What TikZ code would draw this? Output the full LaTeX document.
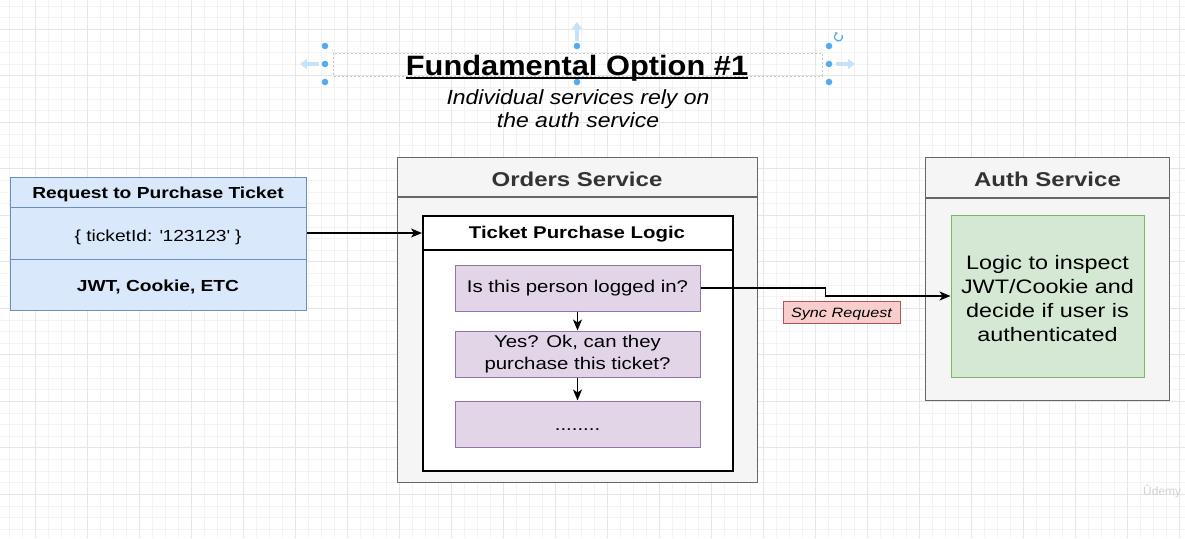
\documentclass[tikz,border=0pt]{standalone}
\usepackage{fontspec}
\setmainfont{Liberation Sans}[FakeStretch=1.2]
\newfontfamily\titlefont{Liberation Sans}[FakeStretch=1.1]
\newfontfamily\subfont{Liberation Sans}[FakeStretch=1.12]
\newfontfamily\plainfont{Liberation Sans}
\usetikzlibrary{arrows.meta,calc}
\definecolor{reqfill}{HTML}{DAE8FC}
\definecolor{reqdraw}{HTML}{6C8EBF}
\definecolor{svcfill}{HTML}{F5F5F5}
\definecolor{svcdraw}{HTML}{666666}
\definecolor{svctext}{HTML}{333333}
\definecolor{purfill}{HTML}{E1D5E7}
\definecolor{purdraw}{HTML}{9673A6}
\definecolor{grnfill}{HTML}{D5E8D4}
\definecolor{grndraw}{HTML}{82B366}
\definecolor{redfill}{HTML}{F8CECC}
\definecolor{reddraw}{HTML}{B85450}
\definecolor{gridminor}{HTML}{F3F3F3}
\definecolor{gridmajor}{HTML}{E6E6E6}
\definecolor{handlecol}{HTML}{56AAF0}
\definecolor{hintcol}{HTML}{C6E2F8}
\tikzset{
  box/.style={draw, rectangle, inner sep=0pt, anchor=north west},
  txt/.style={inner sep=0pt, anchor=base},
  purbox/.style={draw=purdraw, fill=purfill, line width=1pt, minimum width=245pt, minimum height=46pt, inner sep=0pt, font=\fontsize{17}{21.7}\selectfont},
  arr/.style={-{Stealth[length=11pt,width=9pt,inset=3pt]}, line width=1.2pt},
  hint/.style={hintcol, line width=3.5pt, -{Triangle[length=7pt,width=10pt]}},
}
\begin{document}
\begin{tikzpicture}[x=1pt,y=-1pt]
\useasboundingbox (0,0) rectangle (1185,538);
\clip (0,0) rectangle (1185,538);
\fill[white] (0,0) rectangle (1185,538);
% grid
\foreach \i in {0,...,92} \draw[gridminor, line width=0.8pt] ({-3.3+13*\i},0) -- ({-3.3+13*\i},538);
\foreach \j in {0,...,46} \draw[gridminor, line width=0.8pt] (0,{6.05+11.625*\j}) -- (1185,{6.05+11.625*\j});
\foreach \i in {0,...,23} \draw[gridmajor, line width=0.8pt] ({35.7+52*\i},0) -- ({35.7+52*\i},538);
\foreach \j in {0,...,11} \draw[gridmajor, line width=0.8pt] (0,{29.3+46.5*\j}) -- (1185,{29.3+46.5*\j});

% selection handles around title
\draw[black!22, line width=0.6pt, dash pattern=on 2pt off 2pt] (333,53) rectangle (822,76);
\foreach \p in {(325,46),(325,64),(325,82),(577,46),(577,82),(829,46),(829,64),(829,82)}
  \fill[handlecol] \p circle (3.3);
\draw[hint] (319,64) -- (300,64);
\draw[hint] (836,64) -- (855,64);
\draw[hint] (577,41) -- (577,22);
\draw[handlecol, line width=1.2pt, -{Stealth[length=3pt,width=3.5pt]}] (842,35) arc (-30:260:4);

% title
\node[txt, font=\titlefont\bfseries\fontsize{28}{32}\selectfont] (title) at (577,75) {Fundamental Option \#1};
\draw[line width=2pt] ($(title.base west)+(0,3.2)$) -- ($(title.base east)+(0,3.2)$);
\node[txt, font=\subfont\itshape\fontsize{20.5}{23.3}\selectfont] (sub1) at (578,104) {Individual services rely on};
\node[txt, font=\subfont\itshape\fontsize{20.5}{23.3}\selectfont] (sub2) at (578,127.3) {the auth service};

% request box
\node[box, fill=reqfill, draw=reqdraw, line width=1pt, minimum width=296pt, minimum height=133pt] (req) at (10,177) {};
\draw[reqdraw, line width=1pt] ($(req.north west)+(0,30)$) -- ($(req.north east)+(0,30)$);
\draw[reqdraw, line width=1pt] ($(req.north west)+(0,82)$) -- ($(req.north east)+(0,82)$);
\node[txt, font=\bfseries\fontsize{16}{19}\selectfont] (reqh) at (158,198.3) {Request to Purchase Ticket};
\node[txt, font=\fontsize{16}{19}\selectfont] (reqb) at (158,241) {\{ ticketId: \textquotesingle 123123\textquotesingle\ \}};
\node[txt, font=\bfseries\fontsize{16}{19}\selectfont] (reqf) at (158,291.7) {JWT, Cookie, ETC};

% orders service
\node[box, fill=svcfill, draw=svcdraw, line width=1.2pt, minimum width=360pt, minimum height=325pt] (orders) at (397,157) {};
\draw[svcdraw, line width=1.2pt] ($(orders.north west)+(0,40)$) -- ($(orders.north east)+(0,40)$);
\node[txt, text=svctext, font=\bfseries\fontsize{20}{24}\selectfont] (ordersh) at (577,186.7) {Orders Service};

% ticket purchase logic
\node[box, fill=white, draw=black, line width=1.5pt, minimum width=310pt, minimum height=255pt] (tpl) at (422,215) {};
\draw[black, line width=1.5pt] ($(tpl.north west)+(0,35)$) -- ($(tpl.north east)+(0,35)$);
\coordinate (tplin) at ($(tpl.north west)+(0,18)$);
\node[txt, font=\bfseries\fontsize{17}{20}\selectfont] (tplh) at (577,238.3) {Ticket Purchase Logic};

\node[purbox] (b1) at (577.5,288) {Is this person logged in?};
\node[purbox, align=center] (b2) at (577.5,354) {Yes? Ok, can they\\purchase this ticket?};
\node[purbox, text height=12pt, text depth=0pt] (b3) at (577.5,424) {........};

% auth service
\node[box, fill=svcfill, draw=svcdraw, line width=1.2pt, minimum width=244pt, minimum height=243pt] (auth) at (925,157) {};
\draw[svcdraw, line width=1.2pt] ($(auth.north west)+(0,41)$) -- ($(auth.north east)+(0,41)$);
\node[txt, text=svctext, font=\bfseries\fontsize{20}{24}\selectfont] (authh) at (1047.5,186.7) {Auth Service};
\node[draw=grndraw, fill=grnfill, line width=1pt, minimum width=193pt, minimum height=162pt, inner sep=0pt] (logic) at (1047.5,296) {};
\node[inner sep=0pt, align=center, font=\fontsize{19.5}{24.3}\selectfont] (logict) at (1047.5,298.5) {Logic to inspect\\JWT/Cookie and\\decide if user is\\authenticated};

% connectors
\draw[arr] (req.east |- tplin) -- (tplin);
\draw[arr] (b1.south) -- (b2.north);
\draw[arr] (b2.south) -- (b3.north);
\draw[arr] (b1.east) -| ($(b1.east)!.5!(logic.west)$) |- (logic.west);

% sync request label
\node[draw=reddraw, fill=redfill, line width=1pt, minimum width=117pt, minimum height=22pt, inner sep=0pt] (sync) at (841.5,312) {};
\node[txt, font=\itshape\fontsize{13.5}{16}\selectfont] (synct) at (841.5,317.3) {Sync Request};

% watermark
\node[anchor=base west, inner sep=0pt, text=black!18, font=\plainfont\fontsize{12}{12}\selectfont] (wm) at (1143,495) {Ûdemy};
\end{tikzpicture}
\end{document}
